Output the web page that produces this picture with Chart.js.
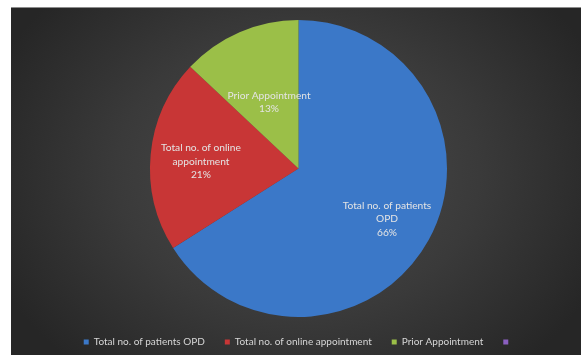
<!DOCTYPE html>
<html>
<head>
<meta charset="utf-8">
<script src="https://cdn.jsdelivr.net/npm/chart.js@4/dist/chart.umd.min.js"></script>
<style>
  html, body { margin: 0; padding: 0; background: #ffffff; }
  .panel {
    position: absolute;
    left: 11px;
    top: 7px;
    width: 570px;
    height: 347px;
    overflow: hidden;
    border-top: 1px solid #8c8c8c;
    background: radial-gradient(ellipse 330px 260px at 287px 165px, #4d4d4d 0%, #3a3a3a 55%, #262626 100%);
  }
</style>
</head>
<body>
<div class="panel"><canvas id="chart" width="570" height="349"></canvas></div>
<script>
const categories = [
  "Total no. of patients OPD",
  "Total no. of online appointment",
  "Prior Appointment",
  ""
];
const shares = [66, 21, 13, 0];
// text written inside each slice, before its percentage
const sliceText = [
  ["Total no. of patients", "OPD"],
  ["Total no. of online", "appointment"],
  ["Prior Appointment"],
  []
];
const sliceColors = ["#3b78c8", "#c83636", "#9bbf48", "#8a5fc0"];
// how far out from the centre each slice label sits (share of the radius)
const labelDepth = [0.68, 0.66, 0.5, 0.5];

const FONT = "Lato, 'Noto Sans', sans-serif";

const sliceLabels = {
  id: "sliceLabels",
  afterDatasetsDraw(chart) {
    const { ctx } = chart;
    const meta = chart.getDatasetMeta(0);
    const values = chart.data.datasets[0].data;
    const total = values.reduce((a, b) => a + b, 0);
    ctx.save();
    ctx.font = "10.2px " + FONT;
    ctx.fillStyle = "#e4e4e4";
    ctx.textAlign = "center";
    ctx.textBaseline = "middle";
    meta.data.forEach((arc, i) => {
      if (!values[i]) return;
      const p = arc.getProps(["x", "y", "startAngle", "endAngle", "outerRadius"], true);
      const mid = (p.startAngle + p.endAngle) / 2;
      const r = p.outerRadius * labelDepth[i];
      const cx = p.x + Math.cos(mid) * r;
      const cy = p.y + Math.sin(mid) * r + 2;
      const lines = sliceText[i].concat([Math.round(values[i] / total * 100) + "%"]);
      const lh = 13.5;
      const top = cy - (lines.length - 1) * lh / 2;
      lines.forEach((t, k) => ctx.fillText(t, cx, top + k * lh));
    });
    ctx.restore();
  }
};

new Chart(document.getElementById("chart"), {
  type: "pie",
  data: {
    labels: categories,
    datasets: [{
      data: shares,
      backgroundColor: sliceColors,
      borderWidth: 0
    }]
  },
  options: {
    responsive: false,
    animation: false,
    layout: { padding: { left: 5, right: 0, top: 12, bottom: 0 } },
    plugins: {
      legend: {
        position: "bottom",
        labels: {
          boxWidth: 5,
          boxHeight: 5,
          padding: 20,
          color: "#d6d6d6",
          font: { family: FONT, size: 10 }
        }
      },
      tooltip: { enabled: false }
    }
  },
  plugins: [sliceLabels]
});
</script>
</body>
</html>
